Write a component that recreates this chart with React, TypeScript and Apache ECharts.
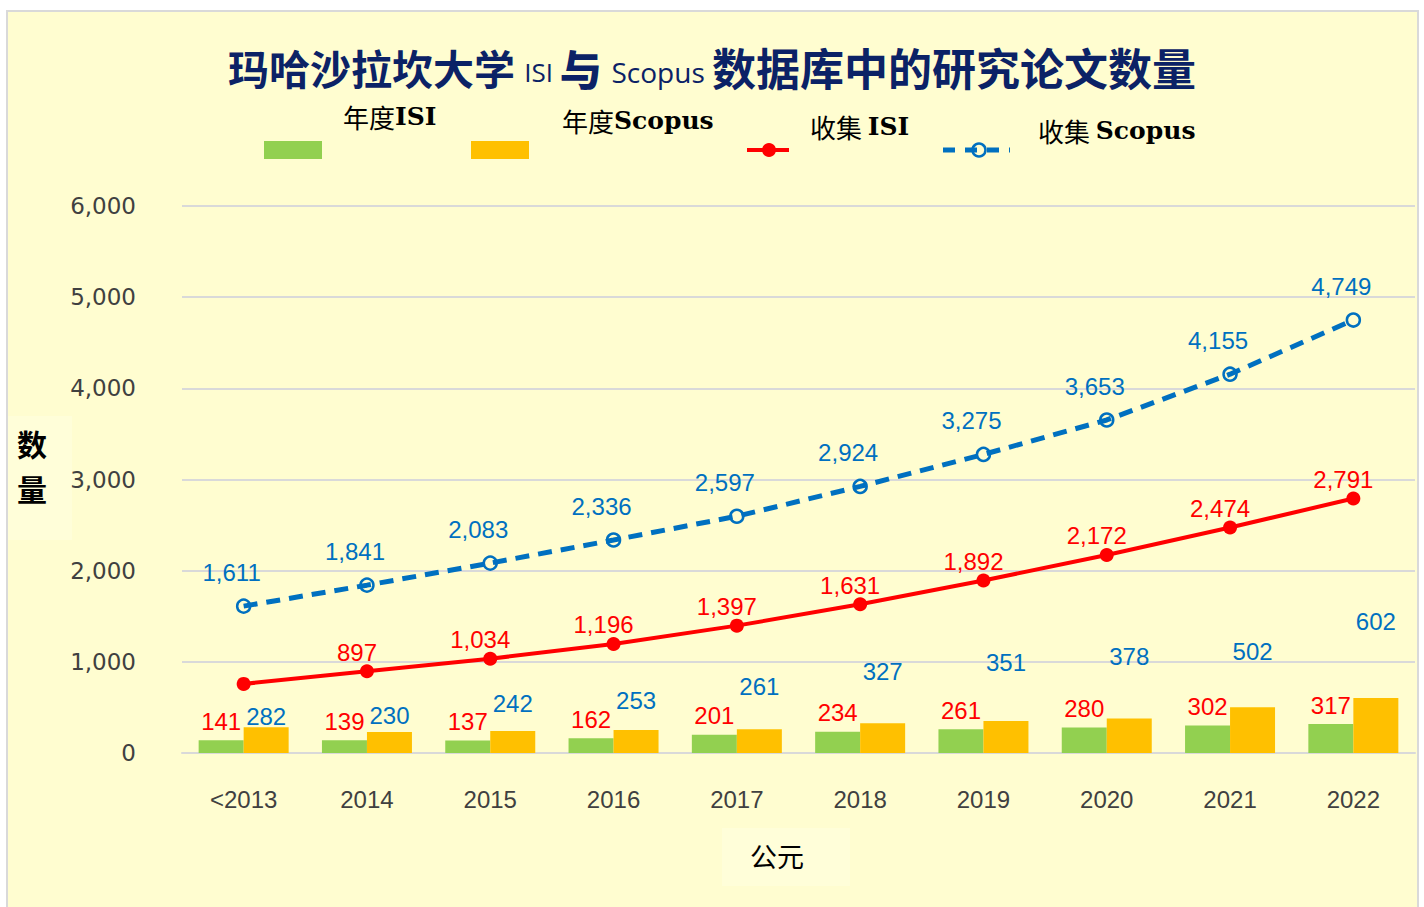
import React, { useEffect, useRef } from "react";
import * as echarts from "echarts";

const categories = ["<2013", "2014", "2015", "2016", "2017", "2018", "2019", "2020", "2021", "2022"];
const annualISI = [141, 139, 137, 162, 201, 234, 261, 280, 302, 317];
const annualScopus = [282, 230, 242, 253, 261, 327, 351, 378, 502, 602];
const cumulativeISI = [758, 897, 1034, 1196, 1397, 1631, 1892, 2172, 2474, 2791];
const cumulativeScopus = [1611, 1841, 2083, 2336, 2597, 2924, 3275, 3653, 4155, 4749];
const seriesNames = ["年度ISI", "年度Scopus", "收集 ISI", "收集 Scopus"];
const yMin = 0;
const yMax = 6000;
const yStep = 1000;

// label lift (px) for the annual Scopus labels, as placed in the original
const scopusLabelLift = [-6, 0, 10, 12, 26, 35, 42, 45, 39, 60];

const C_GREEN = "#92D050";
const C_YELLOW = "#FFC000";
const C_RED = "#FF0000";
const C_BLUE = "#0070C0";
const BG = "#FFFDD0";
const BOX = "#FFFED9";
const NUM_FONT = "Liberation Sans, Arial, sans-serif";
const fmt = (v: number) => v.toLocaleString("en-US");

function legendText(cn: string, en: string) {
  return `{a|${cn}}{b|${en}}`;
}
const legendRich = {
  a: { fontFamily: "Noto Sans CJK SC", fontWeight: "normal", fontSize: 26, color: "#111" },
  b: { fontFamily: "DejaVu Serif", fontWeight: "bold", fontSize: 25, color: "#111" },
};

export default function App() {
  const ref = useRef<HTMLDivElement>(null);
  useEffect(() => {
    if (!ref.current) return;
    const chart = echarts.init(ref.current, null, { renderer: "svg" });
    const option = {
      animation: false,
      backgroundColor: "transparent",
      title: {
        text:
          "{a|玛哈沙拉坎大学 }{b|ISI }{c|与 }{d|Scopus }{e|数据库中的研究论文数量}",
        left: "center",
        top: 40,
        textStyle: {
          fontWeight: "normal",
          rich: {
            a: { fontFamily: "Noto Sans CJK SC", fontWeight: "bold", fontSize: 41, color: "#0B2266" },
            b: { fontFamily: "Open Sans", fontWeight: "normal", fontSize: 26, color: "#0B2266", padding: [10, 0, 0, 0] },
            c: { fontFamily: "Noto Sans CJK SC", fontWeight: "900", fontSize: 42, color: "#0B2266" },
            d: { fontFamily: "Open Sans", fontWeight: "normal", fontSize: 28, color: "#0B2266", padding: [10, 0, 0, 0] },
            e: { fontFamily: "Noto Sans CJK SC", fontWeight: "bold", fontSize: 44, color: "#0B2266" },
          },
        },
      },
      legend: { show: false },
      grid: { left: 182, right: 9, top: 206, bottom: 154, containLabel: false },
      xAxis: {
        type: "category",
        data: categories,
        axisTick: { show: false },
        axisLine: { lineStyle: { color: "#D9D9D9", width: 2 } },
        axisLabel: { color: "#404040", fontFamily: NUM_FONT, fontSize: 24, margin: 34 },
      },
      yAxis: {
        type: "value",
        min: yMin,
        max: yMax,
        interval: yStep,
        axisLine: { show: false },
        axisTick: { show: false },
        splitLine: { lineStyle: { color: "#D9D9D9", width: 2 } },
        axisLabel: {
          color: "#404040",
          fontFamily: "DejaVu Sans",
          fontSize: 23,
          margin: 46,
          formatter: (v: number) => fmt(v),
        },
      },
      series: [
        {
          name: seriesNames[0],
          type: "bar",
          data: annualISI,
          barWidth: 45,
          barGap: "0%",
          itemStyle: { color: C_GREEN },
          label: {
            show: true,
            position: "top",
            distance: 7,
            color: C_RED,
            fontFamily: NUM_FONT,
            fontSize: 24,
            formatter: (p: any) => fmt(p.value),
          },
          z: 2,
        },
        {
          name: seriesNames[1],
          type: "bar",
          data: annualScopus.map((v, i) => ({
            value: v,
            label: { offset: [0, -scopusLabelLift[i]] },
          })),
          barWidth: 45,
          barGap: "0%",
          itemStyle: { color: C_YELLOW },
          label: {
            show: true,
            position: "top",
            distance: 5,
            color: C_BLUE,
            fontFamily: NUM_FONT,
            fontSize: 24,
            formatter: (p: any) => fmt(p.value),
          },
          z: 2,
        },
        {
          name: seriesNames[2],
          type: "line",
          data: cumulativeISI.map((v, i) => (i === 0 ? { value: v, label: { show: false } } : v)),
          symbol: "circle",
          symbolSize: 14,
          lineStyle: { color: C_RED, width: 4 },
          itemStyle: { color: C_RED },
          label: {
            show: true,
            position: "top",
            distance: 4,
            offset: [-10, 4],
            color: C_RED,
            fontFamily: NUM_FONT,
            fontSize: 24,
            formatter: (p: any) => fmt(p.value),
          },
          z: 5,
        },
        {
          name: seriesNames[3],
          type: "line",
          data: cumulativeScopus,
          symbol: "circle",
          symbolSize: 13,
          lineStyle: { color: C_BLUE, width: 5, type: [14, 9] },
          itemStyle: { color: "rgba(0,0,0,0)", borderColor: C_BLUE, borderWidth: 2.5 },
          label: {
            show: true,
            position: "top",
            distance: 6,
            offset: [-12, -8],
            color: C_BLUE,
            fontFamily: NUM_FONT,
            fontSize: 24,
            formatter: (p: any) => fmt(p.value),
          },
          z: 5,
        },
      ],
      graphic: [
        // axis name boxes
        { type: "rect", shape: { x: 8, y: 416, width: 64, height: 124 }, style: { fill: BOX }, z: -1 },
        {
          type: "text",
          x: 32,
          y: 443,
          style: {
            text: "数",
            fontFamily: "Noto Sans CJK SC",
            fontWeight: "bold",
            fontSize: 30,
            fill: "#000",
            align: "center",
            verticalAlign: "middle",
          },
        },
        {
          type: "text",
          x: 32,
          y: 488,
          style: {
            text: "量",
            fontFamily: "Noto Sans CJK SC",
            fontWeight: "bold",
            fontSize: 30,
            fill: "#000",
            align: "center",
            verticalAlign: "middle",
          },
        },
        { type: "rect", shape: { x: 722, y: 828, width: 128, height: 58 }, style: { fill: BOX }, z: -1 },
        {
          type: "text",
          x: 777,
          y: 855,
          style: {
            text: "公元",
            fontFamily: "Noto Sans CJK SC",
            fontSize: 27,
            fill: "#000",
            align: "center",
            verticalAlign: "middle",
          },
        },
        // legend
        { type: "rect", shape: { x: 264, y: 141, width: 58, height: 18 }, style: { fill: C_GREEN } },
        {
          type: "text",
          x: 343,
          y: 116,
          style: { text: legendText("年度", "ISI"), rich: legendRich, verticalAlign: "middle", align: "left" },
        },
        { type: "rect", shape: { x: 471, y: 141, width: 58, height: 18 }, style: { fill: C_YELLOW } },
        {
          type: "text",
          x: 562,
          y: 120,
          style: { text: legendText("年度", "Scopus"), rich: legendRich, verticalAlign: "middle", align: "left" },
        },
        { type: "line", shape: { x1: 747, y1: 150, x2: 789, y2: 150 }, style: { stroke: C_RED, lineWidth: 4 } },
        { type: "circle", shape: { cx: 769, cy: 150, r: 7 }, style: { fill: C_RED } },
        {
          type: "text",
          x: 810,
          y: 126,
          style: { text: legendText("收集 ", "ISI"), rich: legendRich, verticalAlign: "middle", align: "left" },
        },
        {
          type: "line",
          shape: { x1: 943, y1: 150, x2: 1010, y2: 150 },
          style: { stroke: C_BLUE, lineWidth: 5, lineDash: [12, 10] },
        },
        {
          type: "circle",
          shape: { cx: 979, cy: 150, r: 6.5 },
          style: { fill: "rgba(0,0,0,0)", stroke: C_BLUE, lineWidth: 2.5 },
        },
        {
          type: "text",
          x: 1038,
          y: 130,
          style: { text: legendText("收集 ", "Scopus"), rich: legendRich, verticalAlign: "middle", align: "left" },
        },
      ],
    };
    chart.setOption(option as any);
    return () => chart.dispose();
  }, []);

  return (
    <div style={{ position: "fixed", left: 0, top: 0, width: 1424, height: 907, background: "#fff" }}>
      <div
        style={{
          position: "absolute",
          left: 6,
          top: 10,
          width: 1413,
          height: 905,
          boxSizing: "border-box",
          border: "2px solid #D9D9D9",
          background: BG,
        }}
      />
      <div ref={ref} style={{ position: "absolute", left: 0, top: 0, width: 1424, height: 907 }} />
    </div>
  );
}
